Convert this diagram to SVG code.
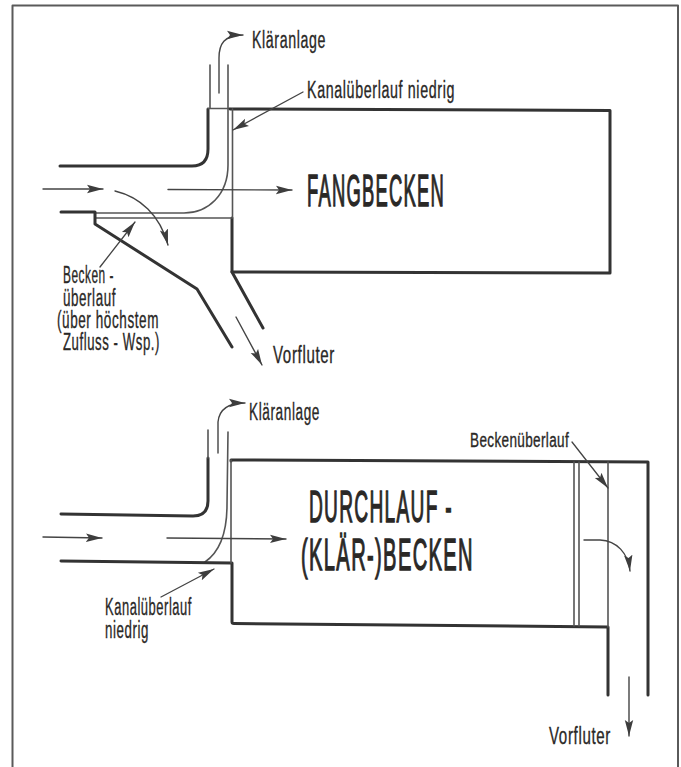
<svg xmlns="http://www.w3.org/2000/svg" width="681" height="767" viewBox="0 0 681 767">
<style>
text{font-family:"Liberation Sans Narrow","Liberation Sans",Arial,sans-serif;fill:#2a2826;stroke:#2a2826;stroke-width:.35;letter-spacing:1px}
.big{font-size:45px;stroke-width:1.3;letter-spacing:3px}
.m{font-size:23px}
.s{font-size:20px;letter-spacing:.5px}
path,line{fill:none;stroke-linecap:round;stroke-linejoin:round}
.thick{stroke:#333;stroke-width:3}
.thin{stroke:#555;stroke-width:1.6}
.arr{stroke:#444;stroke-width:1.4;marker-end:url(#head)}
.lead{stroke:#444;stroke-width:1.3;marker-end:url(#head)}
</style>
<defs>
<marker id="head" markerUnits="userSpaceOnUse" markerWidth="18" markerHeight="11" refX="16" refY="5.500" orient="auto">
<path d="M0 1.300L16 5.500L0 9.700L3 5.500Z" style="fill:#3d3d3d;stroke:none"/>
</marker>
</defs>
<rect width="681" height="767" fill="#fff"/>
<path id="frame" d="M12.500 767V5.500H678V767" style="stroke:#5a5a5a;stroke-width:2"/>
<g id="fangbecken">
<path class="thick" d="M60 166H192Q208 166 208 149V109"/>
<path class="thin" d="M208 108.500H230M210 108V65M228 108V65"/>
<path class="thick" d="M230 109L610 110.500V273L232 272V218"/>
<path class="thin" d="M228 109V165C228 195 208 213 184 213H95"/>
<path class="thin" d="M232.500 109V218H95"/>
<path class="thick" d="M61 212H95V224L197 289L232 347"/>
<path class="thick" d="M232 272L263 328"/>
<text class="big" x="307" y="206" textLength="138" lengthAdjust="spacingAndGlyphs">FANGBECKEN</text>
</g>
<g id="durchlauf">
<path class="thick" d="M61 514L193 516Q208 516 208 501V458"/>
<path class="thin" d="M208 458V430M228 432L227 505C227 535 218 553 205 562"/>
<path class="thick" d="M61 561L232 563V622Q232 623.500 234 623.500L608 627V695"/>
<path class="thick" d="M231 461V460L648 462V695"/>
<path class="thin" d="M231 460V563M574 462V626M579 462V626M608 462V627"/>
<text class="big" x="309" y="522" textLength="144" lengthAdjust="spacingAndGlyphs">DURCHLAUF -</text>
<text class="big" x="301" y="570" textLength="173" lengthAdjust="spacingAndGlyphs">(KLÄR-)BECKEN</text>
</g>
<g id="connectors">
<path class="arr" d="M219 93V58C219 44 224 35 243 35"/>
<path class="lead" d="M303 92L233 130"/>
<line class="arr" x1="43" y1="189" x2="103" y2="189"/>
<line class="arr" x1="168" y1="189.500" x2="292" y2="190"/>
<path class="arr" d="M115 191C140 197 160 215 168 245"/>
<path class="lead" d="M100 267L135 222"/>
<line class="arr" x1="236" y1="317" x2="262" y2="365"/>
<path class="arr" d="M218 453V422C219 411 226 403 245 403"/>
<line class="arr" x1="43" y1="537" x2="102" y2="538"/>
<line class="arr" x1="167" y1="538" x2="286" y2="539"/>
<path class="lead" d="M161 597L214 569"/>
<path class="lead" d="M572 442L608 488"/>
<path class="arr" d="M584 540H600C617 541 628 553 630 571"/>
<line class="arr" x1="629" y1="677" x2="629" y2="736"/>
</g>
<g id="labels">
<text class="m" x="252" y="48" textLength="74" lengthAdjust="spacingAndGlyphs">Kläranlage</text>
<text class="m" x="307" y="98" textLength="148" lengthAdjust="spacingAndGlyphs">Kanalüberlauf  niedrig</text>
<text class="m" x="63" y="283" textLength="51" lengthAdjust="spacingAndGlyphs">Becken -</text>
<text class="m" x="63" y="306" textLength="53" lengthAdjust="spacingAndGlyphs">überlauf</text>
<text class="m" x="57" y="328" textLength="102" lengthAdjust="spacingAndGlyphs">(über höchstem</text>
<text class="m" x="63" y="350" textLength="97" lengthAdjust="spacingAndGlyphs">Zufluss - Wsp.)</text>
<text class="m" x="273" y="363" textLength="62" lengthAdjust="spacingAndGlyphs">Vorfluter</text>
<text class="m" x="249" y="420" textLength="71" lengthAdjust="spacingAndGlyphs">Kläranlage</text>
<text class="s" x="470" y="447" textLength="99" lengthAdjust="spacingAndGlyphs">Beckenüberlauf</text>
<text class="m" x="105" y="615" textLength="87" lengthAdjust="spacingAndGlyphs">Kanalüberlauf</text>
<text class="m" x="105" y="638" textLength="44" lengthAdjust="spacingAndGlyphs">niedrig</text>
<text class="m" x="549" y="744" textLength="62" lengthAdjust="spacingAndGlyphs">Vorfluter</text>
</g>
</svg>
